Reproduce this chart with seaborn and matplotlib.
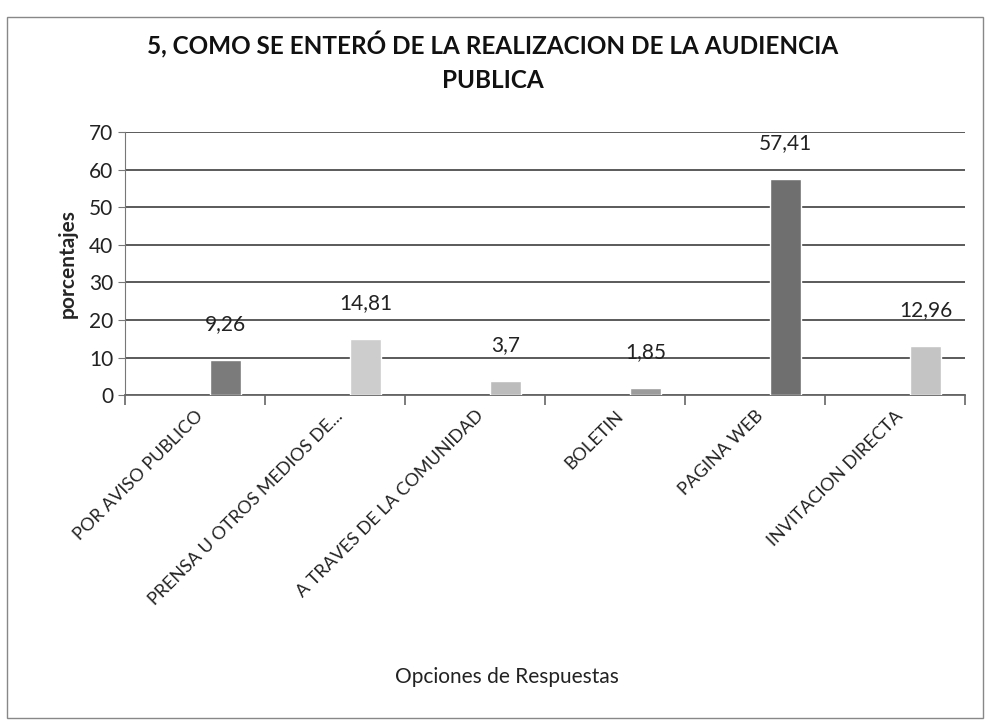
## Import Libraries

import pandas as pd
import matplotlib.pyplot as plt
from matplotlib.patches import Rectangle
import seaborn as sns

# data
categorias = ["POR AVISO PUBLICO", "PRENSA U OTROS MEDIOS DE...",
              "A TRAVES DE LA COMUNIDAD", "BOLETIN", "PAGINA WEB",
              "INVITACION DIRECTA"]
porcentajes = [9.26, 14.81, 3.7, 1.85, 57.41, 12.96]
etiquetas = ["9,26", "14,81", "3,7", "1,85", "57,41", "12,96"]
colores = ["#7b7b7b", "#cdcdcd", "#bcbcbc", "#9c9c9c", "#6f6f6f", "#c4c4c4"]
y_ticks = [0, 10, 20, 30, 40, 50, 60, 70]

df = pd.DataFrame({"Opcion": categorias, "Porcentaje": porcentajes})

sns.set_style("white")
plt.rcParams["font.family"] = ["Lato", "DejaVu Sans"]

fig = plt.figure(figsize=(9.88, 7.25), dpi=100)
ax = fig.add_axes([0.1265, 0.455, 0.85, 0.363])

sns.barplot(data=df, x="Opcion", y="Porcentaje", hue="Opcion",
            palette=colores, width=0.22, legend=False, ax=ax, zorder=3)

# bars sit to the right of the category centre in the original
for p in ax.patches:
    p.set_x(p.get_x() + 0.22)

# one container per hue level, same order as categorias
for c, txt in zip(ax.containers, etiquetas):
    ax.bar_label(c, labels=[txt], padding=19, fontsize=15, color="#222222")

ax.set_ylim(0, 70)
ax.set_yticks(y_ticks)
ax.set_xlim(-0.5, len(categorias) - 0.5)
ax.yaxis.grid(True, color="#5a5a5a", linewidth=1.4, zorder=0)
ax.set_axisbelow(True)

for s in ["top", "right"]:
    ax.spines[s].set_visible(False)
ax.spines["left"].set_color("#777777")
ax.spines["bottom"].set_color("#666666")
ax.spines["bottom"].set_linewidth(1.3)

ax.set_xticks(range(len(categorias)))
ax.set_xticklabels(categorias, rotation=45, ha="right", rotation_mode="anchor",
                   fontsize=13, color="#222222")
ax.set_xticks([i - 0.5 for i in range(len(categorias) + 1)], minor=True)
ax.tick_params(axis="x", which="major", length=0, pad=9, bottom=True)
ax.tick_params(axis="x", which="minor", length=7, width=1.2, color="#666666",
               direction="out", bottom=True)
ax.tick_params(axis="y", length=5, color="#777777", direction="out", left=True,
               labelsize=15, labelcolor="#222222")

ax.set_xlabel("")
ax.set_ylabel("porcentajes", fontsize=15, fontweight="bold", labelpad=8)

fig.text(0.499, 0.915, "5, COMO SE ENTERÓ DE LA REALIZACION DE LA AUDIENCIA\nPUBLICA",
         ha="center", va="center", fontsize=17.5, fontweight="bold",
         linespacing=1.6, color="#111111")
fig.text(0.513, 0.066, "Opciones de Respuestas", ha="center", va="center",
         fontsize=15, color="#222222")

fig.add_artist(Rectangle((0.007, 0.01), 0.988, 0.967, transform=fig.transFigure,
                         fill=False, edgecolor="#888888", linewidth=1.0))

plt.savefig("out.png", dpi=100)
